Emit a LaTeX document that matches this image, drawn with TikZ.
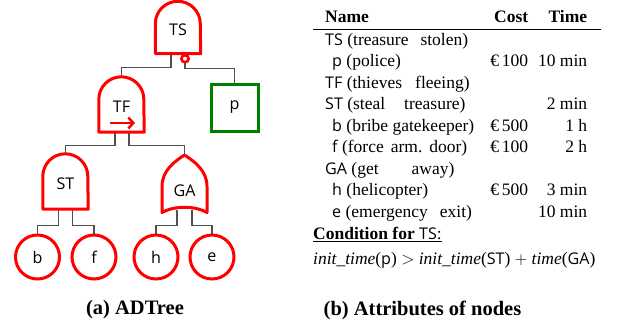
\documentclass[tikz,border=0pt]{standalone}
\usepackage{fontspec}
\usepackage{array}
\setmainfont{Liberation Serif}
\newfontfamily\lbl[Scale=0.92]{Open Sans}
\usetikzlibrary{positioning,calc,arrows.meta}

\definecolor{gatered}{RGB}{255,0,0}
\definecolor{boxgreen}{RGB}{0,128,0}
\definecolor{wire}{RGB}{80,80,80}

\tikzset{
    gate/.style={rectangle, inner sep=0pt, minimum width=45pt, minimum height=55pt, font=\lbl, text height=16pt, text depth=0pt},
    orgate/.style={gate, minimum height=59pt, text height=23pt},
    leaf/.style={circle, draw=gatered, line width=3pt, inner sep=0pt, minimum size=44pt, font=\lbl},
    defence/.style={rectangle, draw=boxgreen, line width=3pt, inner sep=0pt, minimum size=47pt, font=\lbl},
    negation/.style={circle, draw=gatered, fill=white, line width=2.5pt, inner sep=0pt, minimum size=7pt},
    outline/.style={draw=gatered, line width=3pt, line join=round},
    wireline/.style={draw=wire, line width=1.1pt},
    caption/.style={font=\fontsize{20.5}{24}\selectfont\bfseries, inner sep=0pt}
}

\begin{document}
\fontsize{17.5}{21.5}\selectfont
\begin{tikzpicture}[x=1pt, y=1pt]
    \useasboundingbox (0,0) rectangle (629,-329);

    % ADTree
    \node[gate, minimum height=52pt] (TS) at (178,-27.5) {TS};
    \node[gate] (TF) at (121.5,-104.5) {TF};
    \node[gate] (ST) at (65.5,-181.5) {ST};
    \node[orgate] (GA) at (184.5,-184.5) {GA};
    \node[defence] (p) at (234.5,-107.5) {p};
    \node[negation] (neg) at ([xshift=7pt,yshift=-5pt]TS.south) {};
    \node[leaf] (b) at (37.5,-257) {b};
    \node[leaf] (f) at (94,-257) {f};
    \node[leaf] (h) at (156,-257) {h};
    \node[leaf] (e) at (212,-257) {e};

    \draw[wireline] ([xshift=-7pt]TS.south) -- ++(0,-14) -| (TF.north);
    \draw[wireline] (neg.south) -- ++(0,-5) -| (p.north);
    \draw[wireline] ([xshift=-6.5pt]TF.south) -- ++(0,-13) -| (ST.north);
    \draw[wireline] ([xshift=7.5pt]TF.south) -- ++(0,-13) -| (GA.north);
    \draw[wireline] ([xshift=-7pt]ST.south) -- ++(0,-16) -| (b.north);
    \draw[wireline] ([xshift=7pt]ST.south) -- ++(0,-16) -| (f.north);
    \draw[wireline] ([xshift=-7.5pt,yshift=4.5pt]GA.south) -- ++(0,-15.5) -| (h.north);
    \draw[wireline] ([xshift=7.5pt,yshift=4.5pt]GA.south) -- ++(0,-15.5) -| (e.north);

    \foreach \g in {TS,TF,ST}
        \draw[outline] (\g.south west) -- ([yshift=-22.5pt]\g.north west)
            arc[start angle=180, end angle=0, radius=22.5pt] -- (\g.south east) -- cycle;
    \draw[outline, shift={(GA.center)}] (-22.5,-28) -- (-22.5,-2)
        .. controls (-22.5,14) and (-10,23) .. (0,29.5)
        .. controls (10,23) and (22.5,14) .. (22.5,-2) -- (22.5,-28)
        .. controls (10,-21) and (-10,-21) .. cycle;
    \node[negation] at (neg) {};
    \draw[gatered, line width=2.5pt, -{Straight Barb[length=5pt, width=11pt]}]
        ([shift={(-11.5pt,-18.5pt)}]TF.center) -- ++(25,0);

    % attribute table
    \node[anchor=base west, inner sep=0pt] (attr) at (313,-22.5) {%
        \setlength{\arrayrulewidth}{1.3pt}%
        \begin{tabular}[t]{@{\hspace{12pt}}p{150pt}@{}>{\raggedleft\arraybackslash}p{53pt}@{}>{\raggedleft\arraybackslash}p{59pt}@{\hspace{11pt}}}
            \textbf{Name} & \textbf{Cost} & \textbf{Time}\\
            \hline
            {\lbl TS} (treasure\hspace{12pt}stolen) & & \\
            \hspace{7pt}{\lbl p} (police) & €\,100 & 10 min\\
            {\lbl TF} (thieves\hspace{13pt}fleeing) & & \\
            {\lbl ST} (steal\hspace{19pt}treasure) & & 2 min\\
            \hspace{7pt}{\lbl b} (bribe gatekeeper) & €\,500 & 1 h\\
            \hspace{7pt}{\lbl f} (force\hspace{7pt}arm.\hspace{7pt}door) & €\,100 & 2 h\\
            {\lbl GA} (get\hspace{33pt}away) & & \\
            \hspace{7pt}{\lbl h} (helicopter) & €\,500 & 3 min\\
            \hspace{7pt}{\lbl e} (emergency\hspace{12pt}exit) & & 10 min\\[1pt]
            \multicolumn{3}{@{}l}{\underline{\textbf{Condition for} {\lbl TS}:}}\\[3.5pt]
            \multicolumn{3}{@{}l}{\textit{init\_time}({\lbl p}) $>$ \textit{init\_time}({\lbl ST}) $+$ \textit{time}({\lbl GA})}
        \end{tabular}};

    % captions
    \node[caption] (capa) at (135,-310) {(a) ADTree};
    \node[caption] (capb) at (422.5,-310) {(b) Attributes of nodes};
\end{tikzpicture}
\end{document}
